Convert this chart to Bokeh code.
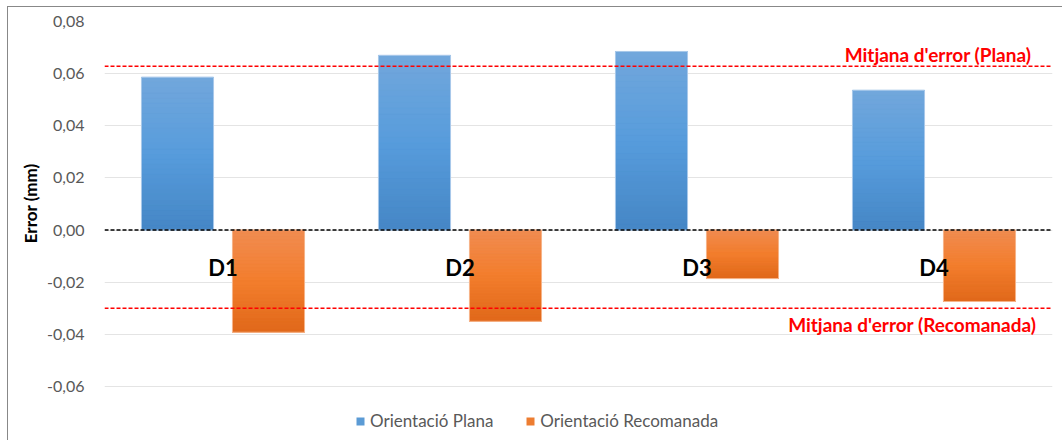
import numpy as np
from bokeh.plotting import figure
from bokeh.models import (ColumnDataSource, Span, Label, Legend, LegendItem,
                          CustomJSTickFormatter, FixedTicker, Range1d, Title)
from bokeh.core.properties import value
from bokeh.transform import dodge
from bokeh.embed import file_html
from bokeh.resources import INLINE

# ---- data -------------------------------------------------------------
categories = ["D1", "D2", "D3", "D4"]
plana = [0.0586, 0.0670, 0.0685, 0.0536]
recomanada = [-0.0392, -0.0350, -0.0186, -0.0274]
mean_plana = 0.0628
mean_recomanada = -0.0300
y_ticks = [-0.06, -0.04, -0.02, 0.00, 0.02, 0.04, 0.06, 0.08]
series_names = ["Orientació Plana", "Orientació Recomanada"]
mean_labels = ["Mitjana d'error (Plana)", "Mitjana d'error (Recomanada)"]
y_title = "Error (mm)"

# ---- styling ------------------------------------------------------------
FONT = "Lato"
BAR_W = 0.304
OFFSET = 0.192
BLUE = "#5b9bd5"
ORANGE = "#ed7d31"
BLUE_STOPS = ["#4586c5", "#579cdc", "#72a7dc"]     # from zero towards the bar end
ORANGE_STOPS = ["#f08c52", "#f37e2d", "#e0681a"]
N_SLICES = 30


def hex2rgb(h):
    h = h.lstrip("#")
    return np.array([int(h[i:i + 2], 16) for i in (0, 2, 4)], dtype=float)


def gradient(stops, t):
    c = [hex2rgb(s) for s in stops]
    if t <= 0.5:
        a, b, u = c[0], c[1], t / 0.5
    else:
        a, b, u = c[1], c[2], (t - 0.5) / 0.5
    rgb = a + (b - a) * u
    return "#%02x%02x%02x" % tuple(int(round(v)) for v in rgb)


# the frame runs down to the bottom edge so the legend can sit inside it
p = figure(width=1055, height=434,
           x_range=Range1d(-0.5, 3.5), y_range=Range1d(-0.0811, 0.08),
           output_backend="svg", toolbar_location=None,
           min_border_left=96, min_border_right=11,
           min_border_top=14, min_border_bottom=0)
p.styles = {"margin-left": "7px", "margin-top": "6px",
            "border-left": "1px solid #888888", "border-top": "1px solid #888888"}
p.outline_line_color = None
p.background_fill_color = "white"
p.border_fill_color = "white"

x_idx = list(range(len(categories)))
src = ColumnDataSource(dict(x=x_idx, cat=categories, plana=plana, rec=recomanada))

# solid base bars (also used for the legend swatches)
r_plana = p.vbar(x=dodge("x", -OFFSET, range=p.x_range), top="plana", bottom=0,
                 width=BAR_W, source=src, fill_color=BLUE, line_color=None)
r_rec = p.vbar(x=dodge("x", OFFSET, range=p.x_range), top=0, bottom="rec",
               width=BAR_W, source=src, fill_color=ORANGE, line_color=None)


# vertical gradient: each bar split into thin bands
def gradient_source(vals, stops):
    xs, tops, bottoms, colors = [], [], [], []
    for i, v in enumerate(vals):
        for k in range(N_SLICES):
            a = v * k / N_SLICES
            b = v * (k + 1) / N_SLICES
            xs.append(i)
            tops.append(max(a, b))
            bottoms.append(min(a, b))
            colors.append(gradient(stops, (k + 0.5) / N_SLICES))
    return ColumnDataSource(dict(x=xs, top=tops, bottom=bottoms, color=colors))


g_pl = gradient_source(plana, BLUE_STOPS)
g_rc = gradient_source(recomanada, ORANGE_STOPS)
p.vbar(x=dodge("x", -OFFSET, range=p.x_range), top="top", bottom="bottom",
       width=BAR_W, source=g_pl, fill_color="color", line_color="color", line_width=0.6)
p.vbar(x=dodge("x", OFFSET, range=p.x_range), top="top", bottom="bottom",
       width=BAR_W, source=g_rc, fill_color="color", line_color="color", line_width=0.6)

# light bar edges
p.vbar(x=dodge("x", -OFFSET, range=p.x_range), top="plana", bottom=0, width=BAR_W,
       source=src, fill_color=None, line_color="#a9c9ea", line_width=1)
p.vbar(x=dodge("x", OFFSET, range=p.x_range), top=0, bottom="rec", width=BAR_W,
       source=src, fill_color=None, line_color="#f6b48a", line_width=1)

# axes and grid
p.xaxis.visible = False
p.xgrid.visible = False
p.yaxis.ticker = FixedTicker(ticks=y_ticks)
p.ygrid.ticker = FixedTicker(ticks=y_ticks)
p.ygrid.grid_line_color = "#e4e4e4"
p.ygrid.grid_line_width = 1
p.yaxis.formatter = CustomJSTickFormatter(code="return tick.toFixed(2).replace('.', ',');")
p.yaxis.axis_line_color = None
p.yaxis.major_tick_line_color = None
p.yaxis.minor_tick_line_color = None
p.yaxis.major_label_text_font = FONT
p.yaxis.major_label_text_font_size = "16px"
p.yaxis.major_label_text_color = "#595959"
p.yaxis.major_label_standoff = 14

# axis title, placed against the gridded part of the axis
p.add_layout(Title(text=y_title, align="right", offset=142, standoff=8,
                   text_font=FONT, text_font_style="bold", text_font_size="17px",
                   text_color="#000000"), "left")

# reference lines
p.add_layout(Span(location=0, dimension="width", line_color="#000000",
                  line_dash="4 2", line_width=1.5))
p.add_layout(Span(location=mean_plana, dimension="width", line_color="#ff0000",
                  line_dash="4 2", line_width=1.5))
p.add_layout(Span(location=mean_recomanada, dimension="width", line_color="#ff0000",
                  line_dash="4 2", line_width=1.5))

p.add_layout(Label(x=3.411, y=0.0674, text=mean_labels[0], text_align="right",
                   text_baseline="middle", text_font=FONT, text_font_style="bold",
                   text_font_size="19px", text_color="#ff0000"))
p.add_layout(Label(x=3.432, y=-0.0364, text=mean_labels[1], text_align="right",
                   text_baseline="middle", text_font=FONT, text_font_style="bold",
                   text_font_size="19px", text_color="#ff0000"))

# category labels
p.text(x="x", y=-0.0142, text="cat", source=src, text_align="center",
       text_baseline="middle", text_font=value(FONT), text_font_style="bold",
       text_font_size="22px", text_color="#000000")

legend = Legend(items=[LegendItem(label=series_names[0], renderers=[r_plana]),
                       LegendItem(label=series_names[1], renderers=[r_rec])],
                location=(251, 10), orientation="horizontal",
                label_text_font=FONT, label_text_font_size="17px",
                label_text_color="#595959", glyph_width=10, glyph_height=10,
                label_standoff=5, spacing=32, padding=0, margin=0,
                border_line_color=None, background_fill_alpha=0)
p.add_layout(legend)

open("out.html", "w").write(file_html(p, INLINE))
